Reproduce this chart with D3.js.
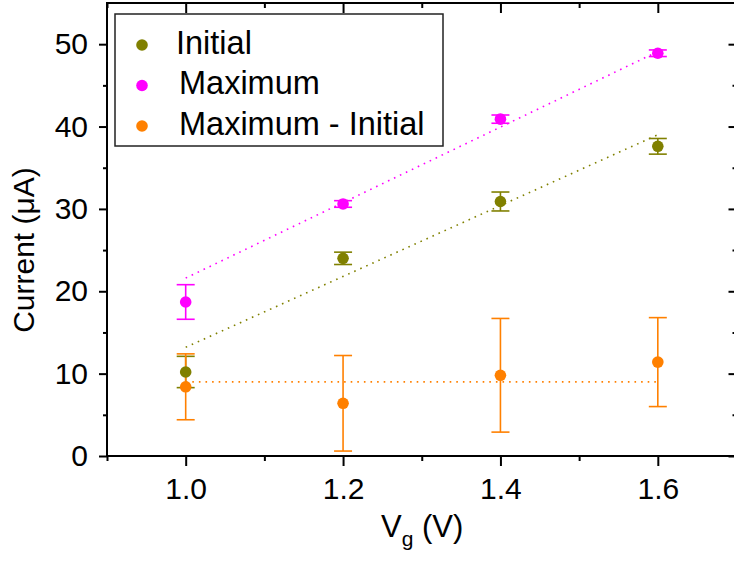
<!DOCTYPE html>
<html>
<head>
<meta charset="utf-8">
<script src="https://cdn.jsdelivr.net/npm/d3@7"></script>
<style>
  body { margin: 0; background: #fff; }
  svg text { font-family: "Liberation Sans", Arial, sans-serif; fill: #000; }
</style>
</head>
<body>
<div id="chart"></div>
<script>
// Gate voltage (V)
const vg = [1.0, 1.2, 1.4, 1.6];

// Current (uA) with error bars
const initial = [10.2, 24.0, 30.9, 37.6];
const initialErr = [1.9, 0.75, 1.15, 0.95];
const maximum = [18.7, 30.6, 40.9, 48.9];
const maximumErr = [2.1, 0.4, 0.5, 0.4];
const difference = [8.4, 6.4, 9.8, 11.4];
const differenceErr = [4.0, 5.8, 6.9, 5.4];

// dotted fit lines, read at both ends (Vg = 1.0 and 1.6)
const fitVg = [1.0, 1.6];
const initialFit = [13.2, 39.0];
const maximumFit = [21.6, 49.1];
const differenceFit = [9.0, 9.0];

const xMajor = [1.0, 1.2, 1.4, 1.6];
const xMinor = [0.9, 1.1, 1.3, 1.5, 1.7];
const yMajor = [0, 10, 20, 30, 40, 50];
const yMinor = [5, 15, 25, 35, 45];

const series = [
  { name: 'Initial', values: initial, err: initialErr, fit: initialFit, color: '#808000' },
  { name: 'Maximum', values: maximum, err: maximumErr, fit: maximumFit, color: '#ff00ff' },
  { name: 'Maximum - Initial', values: difference, err: differenceErr, fit: differenceFit, color: '#ff8000' },
];

const width = 734;
const height = 563;
const margin = { left: 107, top: 3, right: -2.5, bottom: 107 };

const svg = d3.select('#chart').append('svg')
  .attr('width', width)
  .attr('height', height);

const x = d3.scaleLinear().domain([0.9, 1.7]).range([margin.left, width - margin.right]);
const y = d3.scaleLinear().domain([0, 55]).range([height - margin.bottom, margin.top]);

const x0 = x.range()[0];
const x1 = x.range()[1];
const y0 = y.range()[0];
const y1 = y.range()[1];

const fmt = d3.format('.1f');

function styleAxis(g) {
  g.select('.domain').remove();
  g.selectAll('line').attr('stroke', '#000').attr('stroke-width', 2);
}

// bottom axis
svg.append('g').attr('transform', `translate(0,${y0})`)
  .call(d3.axisBottom(x).tickValues(xMinor).tickSize(5).tickFormat(''))
  .call(styleAxis);
svg.append('g').attr('transform', `translate(0,${y0})`)
  .call(d3.axisBottom(x).tickValues(xMajor).tickSize(10).tickPadding(12).tickFormat(fmt))
  .call(styleAxis)
  .selectAll('text').attr('font-size', 30);

// top axis, ticks inward
svg.append('g').attr('transform', `translate(0,${y1})`)
  .call(d3.axisTop(x).tickValues(xMinor).tickSize(-5).tickFormat(''))
  .call(styleAxis);
svg.append('g').attr('transform', `translate(0,${y1})`)
  .call(d3.axisTop(x).tickValues(xMajor).tickSize(-10).tickFormat(''))
  .call(styleAxis);

// left axis
svg.append('g').attr('transform', `translate(${x0},0)`)
  .call(d3.axisLeft(y).tickValues(yMinor).tickSize(4).tickFormat(''))
  .call(styleAxis);
svg.append('g').attr('transform', `translate(${x0},0)`)
  .call(d3.axisLeft(y).tickValues(yMajor).tickSize(8).tickPadding(11).tickFormat(d3.format('d')))
  .call(styleAxis)
  .selectAll('text').attr('font-size', 30);

// right axis, ticks inward
svg.append('g').attr('transform', `translate(${x1},0)`)
  .call(d3.axisRight(y).tickValues(yMinor).tickSize(-4).tickFormat(''))
  .call(styleAxis);
svg.append('g').attr('transform', `translate(${x1},0)`)
  .call(d3.axisRight(y).tickValues(yMajor).tickSize(-8).tickFormat(''))
  .call(styleAxis);

// frame
svg.append('rect')
  .attr('x', x0).attr('y', y1)
  .attr('width', x1 - x0).attr('height', y0 - y1)
  .attr('fill', 'none').attr('stroke', '#000').attr('stroke-width', 2);

// fit lines
const line = d3.line().x(d => x(d[0])).y(d => y(d[1]));
series.forEach((s) => {
  svg.append('path')
    .datum(fitVg.map((v, i) => [v, s.fit[i]]))
    .attr('d', line)
    .attr('fill', 'none')
    .attr('stroke', s.color)
    .attr('stroke-width', 1.6)
    .attr('stroke-dasharray', '1.6,5');
});

// error bars
const capHalf = 9;
series.forEach((s) => {
  const g = svg.append('g').attr('stroke', s.color).attr('stroke-width', 1.6);
  vg.forEach((v, i) => {
    const cx = x(v);
    const top = y(s.values[i] + s.err[i]);
    const bot = y(s.values[i] - s.err[i]);
    g.append('line').attr('x1', cx).attr('x2', cx).attr('y1', top).attr('y2', bot);
    g.append('line').attr('x1', cx - capHalf).attr('x2', cx + capHalf).attr('y1', top).attr('y2', top);
    g.append('line').attr('x1', cx - capHalf).attr('x2', cx + capHalf).attr('y1', bot).attr('y2', bot);
  });
});

// points
series.forEach((s) => {
  svg.append('g').selectAll('circle')
    .data(vg.map((v, i) => [v, s.values[i]]))
    .join('circle')
    .attr('cx', d => x(d[0]))
    .attr('cy', d => y(d[1]))
    .attr('r', 5.8)
    .attr('fill', s.color);
});

// legend
const legend = svg.append('g');
legend.append('rect')
  .attr('x', 115).attr('y', 14)
  .attr('width', 328).attr('height', 132)
  .attr('fill', '#fff')
  .attr('stroke', '#222')
  .attr('stroke-width', 1.5);
series.forEach((s, i) => {
  const ly = 45 + i * 40.5;
  legend.append('circle')
    .attr('cx', 142).attr('cy', ly).attr('r', 5.8).attr('fill', s.color);
  legend.append('text')
    .attr('x', i === 0 ? 176 : 179)
    .attr('y', ly + 8.5)
    .attr('font-size', 32.5)
    .text(s.name);
});

// axis titles
svg.append('text')
  .attr('transform', 'translate(34,250) rotate(-90)')
  .attr('text-anchor', 'middle')
  .attr('font-size', 30)
  .text('Current (μA)');

const xt = svg.append('text')
  .attr('x', 381)
  .attr('y', 537)
  .attr('font-size', 31);
xt.append('tspan').text('V');
xt.append('tspan').attr('font-size', 21).attr('dy', 9).text('g');
xt.append('tspan').attr('dy', -9).text(' (V)');
</script>
</body>
</html>
